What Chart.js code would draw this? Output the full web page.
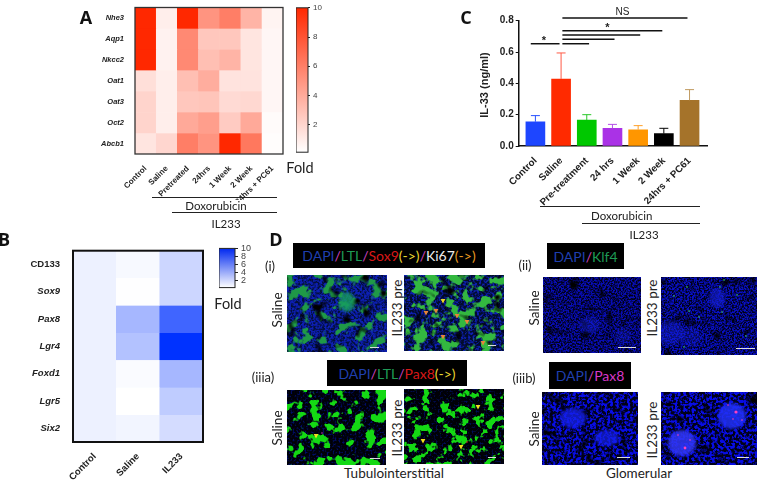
<!DOCTYPE html>
<html><head><meta charset="utf-8">
<script src="https://cdn.jsdelivr.net/npm/chart.js@4"></script>
<style>
html,body{margin:0;padding:0;background:#fff;overflow:hidden}
#page{position:relative;width:758px;height:480px;overflow:hidden;background:#fff;font-family:Lato,sans-serif;color:#222}
canvas{position:absolute;display:block}
.t{position:absolute;transform:translate(-50%,-50%);white-space:nowrap;line-height:1}
.r{transform:translate(-50%,-50%) rotate(-90deg)}
.l{position:absolute;background:#222}
.k{position:absolute;background:#000;display:flex;align-items:center;justify-content:center;font-size:14px;white-space:nowrap;font-family:Lato,sans-serif}
svg{position:absolute;display:block}
</style></head><body><div id="page"></div>
<script>
// ---------- Panel A data ----------
const genesA = ['Nhe3','Aqp1','Nkcc2','Oat1','Oat3','Oct2','Abcb1'];
const groupsA = ['Control','Saline','Pretreated','24hrs','1 Week','2 Week','24hrs + PC61'];
const foldNhe3  = [10,0.8,10,5,6,3.5,0.5];
const foldAqp1  = [10,0.6,5.5,2.6,2.6,1.2,0.4];
const foldNkcc2 = [10,0.6,5.5,3,3.5,1.2,0.4];
const foldOat1  = [1.5,0.8,3,3.8,1.3,1.3,0.4];
const foldOat3  = [2,0.8,2.6,2.7,1.7,1.8,0.4];
const foldOct2  = [2,0.8,4,4.5,2.4,4,0.2];
const foldAbcb1 = [1.2,1.9,6,5,10,6.3,0.1];
// ---------- Panel B data ----------
const genesB = ['CD133','Sox9','Pax8','Lgr4','Foxd1','Lgr5','Six2'];
const groupsB = ['Control','Saline','IL233'];
const foldCD133 = [0.7,0.3,2];
const foldSox9  = [0.7,0.05,2];
const foldPax8  = [0.7,3.5,7.5];
const foldLgr4  = [0.7,3,10];
const foldFoxd1 = [0.7,0.2,3.5];
const foldLgr5  = [0.7,0,2.5];
const foldSix2  = [0.7,0.5,1.7];
const foldTicks = [2,4,6,8,10];
// ---------- Panel C data ----------
const groupsC = ['Control','Saline','Pre-treatment','24 hrs','1 Week','2 Week','24hrs + PC61'];
const il33Mean = [0.155,0.428,0.166,0.113,0.104,0.079,0.292];
const il33Upper = [0.194,0.594,0.2,0.138,0.13,0.113,0.36];
const il33Colors = ['#1e46ff','#ff2a00','#00c800','#aa32e6','#ff9600','#000000','#a5732a'];
const il33Err = ['#2850ff','#ff5a46','#28c828','#b450e6','#ffa028','#000000','#c09a60'];
const sigFrom = [-0.18,1.05,1.05,1.05,1.05,1.05];
const sigTo   = [0.94,2.09,3.08,4.08,4.94,5.92];
const sigAt   = [0.653,0.653,0.681,0.709,0.736,0.817];

const page = document.getElementById('page');
function el(tag,cls,css,html){const e=document.createElement(tag);if(cls)e.className=cls;Object.assign(e.style,css||{});if(html!==undefined)e.innerHTML=html;page.appendChild(e);return e;}
function text(x,y,s,size,extra){return el('div','t',Object.assign({left:x+'px',top:y+'px',fontSize:size+'px'},extra||{}),s);}
function rot(x,y,s,size){return el('div','t r',{left:x+'px',top:y+'px',fontSize:size+'px'},s);}
function hline(x1,x2,y,h){el('div','l',{left:x1+'px',top:y+'px',width:(x2-x1)+'px',height:(h||1)+'px'});}
function canvasAt(x,y,w,h){const c=el('canvas','',{left:x+'px',top:y+'px',width:w+'px',height:h+'px'});c.width=w;c.height=h;return c;}

const boxPlugin = (lw,color)=>({id:'box',afterDatasetsDraw(ch){const a=ch.chartArea,c=ch.ctx;c.save();c.strokeStyle=color;c.lineWidth=lw;c.strokeRect(a.left,a.top,a.width,a.height);c.restore();}});

function heatmap(o){
  const mix=v=>{const f=Math.max(0,Math.min(1,v/10));return `rgb(${o.top.map(k=>Math.round(255+(k-255)*f)).join(',')})`;};
  const c=canvasAt(o.x,o.y,o.w,o.h);
  new Chart(c,{type:'bar',
    data:{labels:o.cols,datasets:o.rows.map((g,i)=>({label:g,data:o.values[i].map(()=>[i,i+1]),
      backgroundColor:o.values[i].map(mix),borderColor:o.values[i].map(mix),borderWidth:0.4,borderSkipped:false,
      barPercentage:1,categoryPercentage:1,grouped:false}))},
    options:{responsive:false,animation:false,events:[],
      layout:{padding:o.pad},
      plugins:{legend:{display:false},tooltip:{enabled:false}},
      scales:{
        x:{grid:{display:false},border:{display:false},afterFit(s){s.height=o.xh;},
           ticks:{autoSkip:false,maxRotation:45,minRotation:45,color:'#222',padding:o.xpad,font:{family:'Liberation Sans',weight:'bold',size:o.xfont}}},
        y:{min:0,max:o.rows.length,reverse:true,grid:{display:false},border:{display:false},
           afterFit(s){s.width=o.yw;},
           afterBuildTicks(s){s.ticks=o.rows.map((g,i)=>({value:i+0.5}));},
           ticks:{callback:(v)=>o.rows[Math.floor(v)],color:'#222',padding:o.ypad,autoSkip:false,
             font:(ctx)=>({family:'Liberation Sans',weight:'bold',size:o.yfont,style:(ctx.tick&&o.rows[Math.floor(ctx.tick.value)]==='CD133')?'normal':'italic'})}}
      }},
    plugins:[boxPlugin(o.lw,o.lc)]});
}
function colorbar(o){
  const c=canvasAt(o.x,o.y,o.w,o.h);
  new Chart(c,{type:'bar',
    data:{labels:['Fold'],datasets:[{data:[[o.min,10]],borderWidth:0,barPercentage:1,categoryPercentage:1,
      backgroundColor(ctx){const ch=ctx.chart,a=ch.chartArea;if(!a)return o.topc;const g=ch.ctx.createLinearGradient(0,a.bottom,0,a.top);g.addColorStop(0,'#ffffff');g.addColorStop(1,o.topc);return g;}}]},
    options:{responsive:false,animation:false,events:[],layout:{padding:o.pad},
      plugins:{legend:{display:false},tooltip:{enabled:false}},
      scales:{x:{display:false},
        y:{position:'right',min:o.min,max:10,border:{display:false},afterFit(s){s.width=o.yw;},
           grid:{drawOnChartArea:false,drawTicks:true,tickLength:o.tick,color:'#222'},
           afterBuildTicks(s){s.ticks=foldTicks.map(v=>({value:v}));},
           ticks:{color:'#444',padding:o.tpad,autoSkip:false,font:{family:'Liberation Sans',size:o.font}}}}},
    plugins:[boxPlugin(o.lw,'#222')]});
}

// ---------- Panel A ----------
heatmap({x:55,y:0,w:235,h:200,top:[255,40,0],rows:genesA,cols:groupsA,
  values:[foldNhe3,foldAqp1,foldNkcc2,foldOat1,foldOat3,foldOct2,foldAbcb1],
  pad:{top:3.5,right:7,left:0,bottom:0},yw:80,xh:46,xfont:8,yfont:7.5,xpad:2,ypad:3,lw:1.3,lc:'#333'});
colorbar({x:296,y:0,w:32,h:160,yw:20,topc:'rgb(255,40,0)',min:0.12,pad:{top:3.5,bottom:6,left:0,right:0},tick:2,tpad:3,font:8,lw:1});
text(300,168,'Fold',14.5);
hline(152,277,196.5,1);text(216,206,'Doxorubicin',11.5);
hline(172,277,211.5,1);text(226,224,'IL233',11.5);

// ---------- Panel B ----------
heatmap({x:0,y:240,w:210,h:240,top:[0,50,255],rows:genesB,cols:groupsB,
  values:[foldCD133,foldSox9,foldPax8,foldLgr4,foldFoxd1,foldLgr5,foldSix2],
  pad:{top:7,right:7,left:0,bottom:0},yw:73,xh:38,xfont:9.5,yfont:9.5,xpad:1,ypad:5,lw:2,lc:'#111'});
colorbar({x:219,y:240,w:36,h:56,yw:20,topc:'rgb(0,40,240)',min:0.12,pad:{top:7,bottom:6,left:0,right:0},tick:3,tpad:3,font:9,lw:1});
text(228,304,'Fold',14.5);

// ---------- Panel C ----------
const sigPlugin={id:'sig',afterDatasetsDraw(ch){
  const x=ch.scales.x,y=ch.scales.y,c=ch.ctx;c.save();
  il33Upper.forEach((u,i)=>{const px=x.getPixelForValue(i),t=y.getPixelForValue(u),b=y.getPixelForValue(il33Mean[i]);
    c.strokeStyle=il33Err[i];c.lineWidth=1;c.beginPath();c.moveTo(px,b);c.lineTo(px,t);c.moveTo(px-4.5,t);c.lineTo(px+4.5,t);c.stroke();});
  c.strokeStyle='#111';c.lineWidth=1.5;
  sigFrom.forEach((f,i)=>{const p=y.getPixelForValue(sigAt[i]);c.beginPath();c.moveTo(x.getPixelForValue(f),p);c.lineTo(x.getPixelForValue(sigTo[i]),p);c.stroke();});
  c.restore();
}};
new Chart(canvasAt(440,5,278,203),{type:'bar',
  data:{datasets:[{data:il33Mean.map((v,i)=>({x:i,y:v})),backgroundColor:il33Colors,borderWidth:0,barThickness:19}]},
  options:{responsive:false,animation:false,events:[],
    layout:{padding:{top:15.7,right:11,left:0,bottom:0}},
    plugins:{legend:{display:false},tooltip:{enabled:false}},
    scales:{
      x:{type:'linear',offset:false,min:-0.65,max:6.68,grid:{display:false,drawTicks:true,offset:false},
         border:{color:'#111',width:1.5},
         afterFit(s){s.height=62;},
         afterBuildTicks(s){s.ticks=groupsC.map((g,i)=>({value:i}));},
         ticks:{callback:(v)=>groupsC[v],autoSkip:false,maxRotation:45,minRotation:45,color:'#222',padding:1,font:{family:'Liberation Sans',weight:'bold',size:9.8}}},
      y:{min:0,max:0.8,border:{color:'#111',width:1.5},
         grid:{drawOnChartArea:false,drawTicks:true,tickLength:3,color:'#111'},
         afterFit(s){s.width=78.7;},
         afterBuildTicks(s){s.ticks=[0,0.2,0.4,0.6,0.8].map(v=>({value:v}));},
         ticks:{callback:(v)=>v.toFixed(1),color:'#222',padding:2,font:{family:'Liberation Sans',weight:'bold',size:10}}}
    }},
  plugins:[sigPlugin]});
rot(484,85,'IL-33 (ng/ml)',0);
page.lastChild.style.cssText+=';font:bold 11px "Liberation Sans";';
text(544,40,'*',11,{fontFamily:'Liberation Sans',fontWeight:'bold'});
text(607.5,27,'*',11,{fontFamily:'Liberation Sans',fontWeight:'bold'});
text(622.5,12,'NS',10,{fontFamily:'Liberation Sans'});
hline(540,700,205.5,1);text(621.7,216,'Doxorubicin',11.5);
hline(582,700,222.5,1.3);text(644,235,'IL233',11.5);

// ---------- Panel letters ----------
[['A',86,17],['B',4,239],['C',466,17],['D',276,239]].forEach(a=>text(a[1],a[2],a[0],18,{fontFamily:'"Open Sans"',fontWeight:'700',color:'#111'}));

// ---------- Panel D: labelled micrographs ----------
const B='#1f3fae',M='#d040c0',G='#1f9a55',R='#d81818',Y='#e8d430',O='#e89a20';
const s=(c,t)=>`<span style="color:${c}">${t}</span>`;
function key(x,y,w,h,html){el('div','k',{left:x+'px',top:y+'px',width:w+'px',height:h+'px'},html);}
key(293,243,192,25,s(B,'DAPI')+s(M,'/')+s(G,'LTL')+s(M,'/')+s(R,'Sox9')+s(Y,'(-&gt;)')+s(M,'/')+s('#eee','Ki67')+s(O,'(-&gt;)'));
key(547,243,77,26,s(B,'DAPI')+s(M,'/')+s(G,'Klf4'));
key(327,360,140,26,s(B,'DAPI')+s(M,'/')+s(G,'LTL')+s(M,'/')+s(R,'Pax8')+s(Y,'(-&gt;)'));
key(549,362,82,27,s(B,'DAPI')+s(M,'/')+s('#d838c8','Pax8'));
text(270,266,'(i)',13);text(525,265,'(ii)',13);text(263,377,'(iiia)',13);text(524,378,'(iiib)',13);
[[278,310,'Saline'],[398,308,'IL233 pre'],[535,308,'Saline'],[653,308,'IL233 pre'],[278,428,'Saline'],[398,428,'IL233 pre'],[535,429,'Saline'],[653,430,'IL233 pre']].forEach(a=>rot(a[0],a[1],a[2],13.5));
text(394,474,'Tubulointerstitial',13.5);text(639,474,'Glomerular',13.5);

const BLUE=[0.05,0.12,0.7],GRN=[0.12,0.6,0.28],GRN2=[0.08,0.85,0.08],BLK=[0,0,0];
const photos=[
 {x:287,y:275,w:100,h:77,base:'#030f3c',layers:[[0.45,2,3,BLUE,4,-1.4],[0.085,3,11,GRN,9,-4.8,0.6],[0.08,2,21,BLK,5,-2.9,0.4]],
  blobs:[[60,27,8,10,'#18a060',0.8]],bar:[83,72,9]},
 {x:404,y:275,w:100,h:76,base:'#020c2c',layers:[[0.45,2,5,BLUE,4,-1.7],[0.09,3,41,[0.2,0.72,0.25],10,-5,0.5],[0.08,2,31,BLK,5,-3,0.4]],
  tris:[[39,26,'#f0d820'],[22,38,'#e8853a'],[32,36,'#e8853a'],[53,41,'#e8853a'],[63,47,'#e8853a'],[39,62,'#e8853a'],[79,68,'#e8853a']],bar:[84,70,8]},
 {x:543,y:277,w:98,h:76,base:'#01011a',layers:[[0.6,2,7,[0.03,0.05,0.72],4,-1.5],[0.08,2,17,BLK,4,-2.4,0.4]],
  blobs:[[47,48,10,8,'#1420d8',0.4],[80,59,8,8,'#1420d8',0.3]],bar:[75,70,18]},
 {x:661,y:277,w:96,h:78,base:'#01011a',layers:[[0.6,2,9,[0.03,0.06,0.78],4,-1.5],[0.08,2,27,BLK,4,-2.4,0.4]],
  blobs:[[56,21,8,10,'#1424e0',0.6],[9,56,14,12,'#1424e0',0.45],[30,60,10,10,'#1424e0',0.3]],
  dots:[[26,10,'#40e060'],[59,10,'#40e060'],[63,3,'#40e060'],[13,19,'#40e060'],[76,18,'#40e060'],[28,34,'#40e060'],[61,35,'#40e060'],[38,40,'#40e060'],[85,59,'#40e060'],[23,70,'#40e060']],bar:[75,71,19]},
 {x:287,y:390,w:99,h:75,base:'#000006',layers:[[0.5,2,13,[0,0.05,0.4],4,-1.9],[0.09,3,51,GRN2,13,-7.1,0.3]],
  tris:[[29,46,'#f0e020']],dots:[[35,43,'#d030c0']],bar:[83,68,10]},
 {x:404,y:389,w:100,h:75,base:'#000006',layers:[[0.5,2,15,[0,0.05,0.35],4,-2],[0.11,3,61,GRN2,13,-7,0.3]],
  tris:[[74,18,'#f0e020'],[19,52,'#f0e020'],[57,58,'#f0e020']],dots:[[63,53,'#e02020']],bar:[84,68,8]},
 {x:542,y:392,w:96,h:73,base:'#01011a',layers:[[0.35,2,19,[0.03,0.05,0.9],6,-2.6],[0.08,2,37,BLK,4,-2.4,0.4]],
  blobs:[[31,26,13,10,'#1824f0',0.75],[65,46,12,8,'#1824f0',0.7]],bar:[75,65,13]},
 {x:661,y:392,w:96,h:73,base:'#01011a',layers:[[0.35,2,23,[0.03,0.05,0.9],6,-2.6],[0.08,2,47,BLK,4,-2.4,0.4]],
  blobs:[[71,24,14,13,'#2030f8',0.85],[21,51,14,13,'#3038f8',0.85]],
  dots:[[75,20,'#ff40c0',1.6],[67,13,'#ff40c0'],[81,28,'#ff40c0'],[24,56,'#ff40c0',1.4],[29,48,'#ff40c0'],[17,43,'#ff40c0'],[72,27,'#ff40c0']],bar:[76,65,12]}
];
const NS='http://www.w3.org/2000/svg';
photos.forEach((p,idx)=>{
  let h=`<defs>`;let body=`<rect width="${p.w}" height="${p.h}" fill="${p.base}"/>`;
  p.layers.forEach((l,j)=>{const id=`f${idx}_${j}`,c=l[3];
    h+=`<filter id="${id}" x="0" y="0" width="100%" height="100%" color-interpolation-filters="sRGB"><feTurbulence type="fractalNoise" baseFrequency="${l[0]}" numOctaves="${l[1]}" seed="${l[2]}"/><feColorMatrix type="matrix" values="0 0 0 0 ${c[0]} 0 0 0 0 ${c[1]} 0 0 0 0 ${c[2]} ${l[4]} 0 0 0 ${l[5]}"/>${l[6]?`<feGaussianBlur stdDeviation="${l[6]}"/>`:''}</filter>`;
    body+=`<rect width="${p.w}" height="${p.h}" filter="url(#${id})"/>`;});
  h+=`<filter id="b${idx}"><feGaussianBlur stdDeviation="1.6"/></filter></defs>`;
  (p.blobs||[]).forEach(b=>body+=`<ellipse cx="${b[0]}" cy="${b[1]}" rx="${b[2]}" ry="${b[3]}" fill="${b[4]}" opacity="${b[5]}" filter="url(#b${idx})"/>`);
  (p.dots||[]).forEach(d=>body+=`<circle cx="${d[0]}" cy="${d[1]}" r="${d[3]||0.8}" fill="${d[2]}"/>`);
  (p.tris||[]).forEach(t=>body+=`<path d="M${t[0]-2.4} ${t[1]-2} L${t[0]+2.4} ${t[1]-2} L${t[0]} ${t[1]+2.4} Z" fill="${t[2]}"/>`);
  if(p.bar)body+=`<rect x="${p.bar[0]}" y="${p.bar[1]}" width="${p.bar[2]}" height="1" fill="#ddd"/>`;
  const sv=document.createElementNS(NS,'svg');sv.setAttribute('width',p.w);sv.setAttribute('height',p.h);sv.setAttribute('viewBox',`0 0 ${p.w} ${p.h}`);
  sv.style.left=p.x+'px';sv.style.top=p.y+'px';sv.innerHTML=h+body;page.appendChild(sv);
});
</script></body></html>
